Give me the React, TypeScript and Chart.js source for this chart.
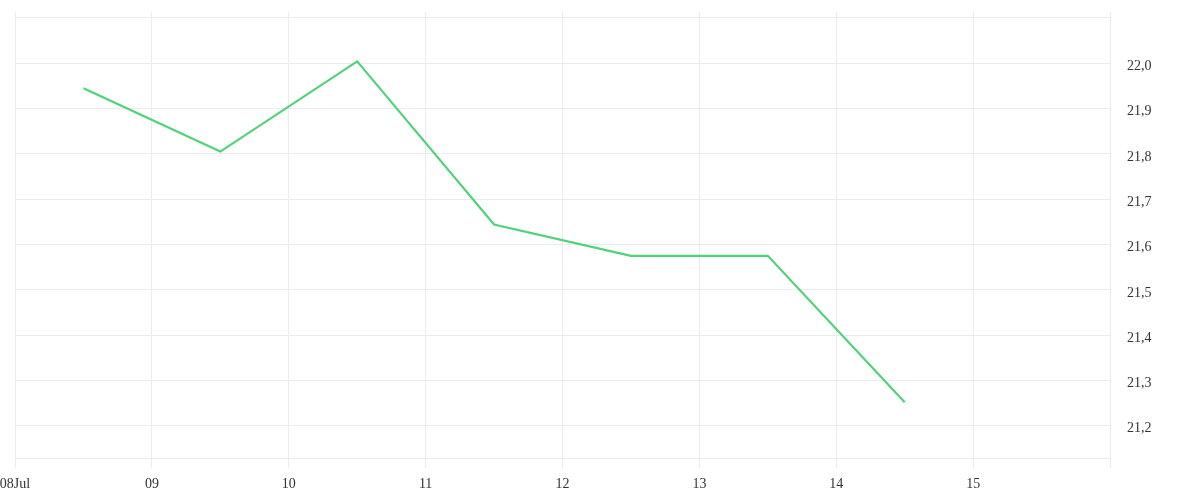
import React, { useEffect, useRef } from "react";
import { Chart, registerables } from "chart.js";

Chart.register(...registerables);

const dayPositions = [8.5, 9.5, 10.5, 11.5, 12.5, 13.5, 14.5];
const values = [21.945, 21.805, 22.004, 21.644, 21.575, 21.575, 21.252];
const xTickDays = [8, 9, 10, 11, 12, 13, 14, 15, 16];
const yTickValues = [21.2, 21.3, 21.4, 21.5, 21.6, 21.7, 21.8, 21.9, 22.0, 22.1];
const firstLabel = "08Jul";

const GRID = "#ececec";
const TEXT = "#333333";
const FONT = { family: "'Liberation Serif', 'Times New Roman', serif", size: 14 };

export default function App() {
  const ref = useRef<HTMLCanvasElement | null>(null);

  useEffect(() => {
    document.body.style.margin = "0";
    if (!ref.current) return;
    const chart = new Chart(ref.current, {
      type: "line",
      data: {
        datasets: [
          {
            data: dayPositions.map((x, i) => ({ x, y: values[i] })),
            borderColor: "#4fd27a",
            borderWidth: 2.2,
            pointRadius: 0,
            tension: 0,
            fill: false,
          },
        ],
      },
      options: {
        animation: false,
        responsive: false,
        maintainAspectRatio: false,
        layout: { padding: { left: 15, top: 12, right: 0, bottom: 0 } },
        plugins: { legend: { display: false }, tooltip: { enabled: false } },
        scales: {
          x: {
            type: "linear",
            min: 8,
            max: 16,
            afterBuildTicks: (axis: any) => {
              axis.ticks = xTickDays.map((v) => ({ value: v }));
            },
            afterFit: (axis: any) => {
              axis.height = 42;
              axis.paddingLeft = 0;
              axis.paddingRight = 0;
            },
            grid: { color: GRID, tickLength: 10, drawTicks: true },
            border: { color: GRID },
            ticks: {
              color: TEXT,
              font: FONT,
              padding: 8,
              maxRotation: 0,
              autoSkip: false,
              callback: (v: any) => {
                const n = Number(v);
                if (n === 8) return firstLabel;
                if (n === 16) return "";
                return String(n).padStart(2, "0");
              },
            },
          },
          y: {
            type: "linear",
            position: "right",
            min: 21.129,
            max: 22.113,
            afterBuildTicks: (axis: any) => {
              axis.ticks = yTickValues.map((v) => ({ value: v }));
            },
            afterFit: (axis: any) => {
              axis.width = 90;
              axis.paddingTop = 0;
              axis.paddingBottom = 0;
            },
            grid: { color: GRID, drawTicks: false },
            border: { display: false },
            ticks: {
              color: TEXT,
              font: FONT,
              padding: 17,
              labelOffset: 3,
              callback: (v: any) => {
                const n = Number(v);
                if (n > 22.05) return "";
                return n.toFixed(1).replace(".", ",");
              },
            },
          },
        },
      },
    });
    return () => chart.destroy();
  }, []);

  return (
    <div style={{ position: "absolute", left: 0, top: 0, width: 1200, height: 500 }}>
      <canvas ref={ref} width={1200} height={500} style={{ width: 1200, height: 500 }} />
    </div>
  );
}
